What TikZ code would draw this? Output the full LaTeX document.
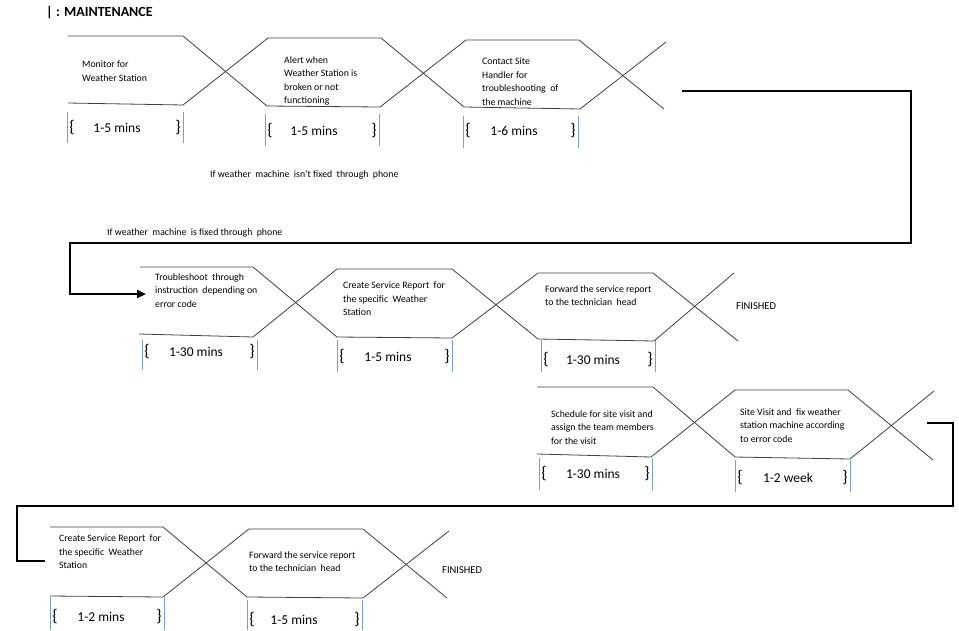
\documentclass[tikz,border=0pt]{standalone}
\usepackage{fontspec}
\setmainfont{Carlito}
\usetikzlibrary{arrows.meta}
\definecolor{hexgray}{RGB}{64,64,64}
\definecolor{brkblue}{RGB}{120,160,200}
\begin{document}
\begin{tikzpicture}[x=1pt,y=-1pt,
  hexline/.style={draw=hexgray, line width=0.8pt},
  brk/.style={draw=brkblue, line width=0.8pt},
  flow/.style={draw=black, line width=2.2pt},
  lbl/.style={anchor=north west, align=left, inner sep=0pt, font=\fontsize{9.8}{13.5}\selectfont},
  cond/.style={anchor=west, inner sep=0pt, font=\fontsize{9.8}{11}\selectfont},
  fin/.style={anchor=west, inner sep=0pt, font=\fontsize{10.5}{11}\selectfont},
  dur/.style={inner sep=0pt, font=\fontsize{13.5}{15}\selectfont},
  brace/.style={inner sep=0pt, font=\fontsize{17}{18}\selectfont},
  title/.style={anchor=west, inner sep=0pt, font=\fontsize{14}{16}\selectfont\bfseries}
]
\useasboundingbox[fill=white] (0,0) rectangle (959,630);

% title
\node[title] (title) at (46,13) {| : MAINTENANCE};

% ---------- Row 1 ----------
\draw[hexline] (68,36) -- (183,36) -- (267,106);
\draw[hexline] (68,103) -- (183,105) -- (268,38);
\draw[hexline] (268,38) -- (381,38) -- (464,107);
\draw[hexline] (267,106) -- (380,107) -- (466,40);
\draw[hexline] (466,40) -- (579,40) -- (664,109);
\draw[hexline] (464,107) -- (580,109) -- (666,42);

\node[lbl] (l1) at (82,61) {Monitor for\\Weather Station};
\node[lbl] (l2) at (284,56) {Alert when\\Weather Station is\\broken or not\\functioning};
\node[lbl] (l3) at (482,58) {Contact Site\\Handler for\\troubleshooting\ \ of\\the machine};

% ---------- Row 2 ----------
\draw[hexline] (140,267) -- (253,267) -- (337,337);
\draw[hexline] (139,334) -- (253,337) -- (337,269);
\draw[hexline] (337,269) -- (452,269) -- (538,339);
\draw[hexline] (337,337) -- (452,338) -- (538,273);
\draw[hexline] (538,273) -- (653,273) -- (738,341);
\draw[hexline] (538,339) -- (654,341) -- (734,273);

\node[lbl] (l4) at (155,273) {Troubleshoot\ \ through\\instruction\ \ depending on\\error code};
\node[lbl] (l5) at (343,282) {Create Service Report\ \ for\\the specific\ \ Weather\\Station};
\node[lbl] (l6) at (545,285) {Forward the service report\\to the technician\ \ head};
\node[fin] (fin1) at (736,306) {FINISHED};

% ---------- Row 3 ----------
\draw[hexline] (537,387) -- (653,387) -- (735,457);
\draw[hexline] (537,454) -- (651,457) -- (735,390);
\draw[hexline] (735,390) -- (848,390) -- (933,460);
\draw[hexline] (735,457) -- (850,459) -- (934,391);

\node[lbl] (l7) at (551,410) {Schedule for site visit and\\assign the team members\\for the visit};
\node[lbl] (l8) at (740,408) {Site Visit and\ \ fix weather\\station machine according\\to error code};

% ---------- Row 4 ----------
\draw[hexline] (50,527) -- (163,527) -- (247,597);
\draw[hexline] (50,596) -- (163,597) -- (249,529);
\draw[hexline] (249,529) -- (363,529) -- (447,598);
\draw[hexline] (247,597) -- (363,598) -- (449,531);

\node[lbl] (l9) at (59,535) {Create Service Report\ \ for\\the specific\ \ Weather\\Station};
\node[lbl] (l10) at (249,551) {Forward the service report\\to the technician\ \ head};
\node[fin] (fin2) at (442,570) {FINISHED};

% ---------- durations ----------
\foreach \xl/\xr/\ya/\yb/\xt/\yt/\txt/\nm in {
  67/183/112/143/117/128/{1-5 mins}/d1,
  265/379/114/146/314/131/{1-5 mins}/d2,
  463/578/116/148/514/131/{1-6 mins}/d3,
  142/257/340/370/196/352/{1-30 mins}/d4,
  337/452/340/372/388/357/{1-5 mins}/d5,
  541/655/340/372/593/360/{1-30 mins}/d6,
  539/652/458/490/593/474/{1-30 mins}/d7,
  735/850/460/492/788/478/{1-2 week}/d8,
  50/164/597/630/101/617/{1-2 mins}/d9,
  247/362/600/630/294/620/{1-5 mins}/d10}{
  \draw[brk] (\xl,\ya) -- (\xl,\yb);
  \draw[brk] (\xr,\ya) -- (\xr,\yb);
  \node[brace] (\nm l) at (\xl+5,\yt) {\{};
  \node[brace] (\nm r) at (\xr-5,\yt) {\}};
  \node[dur] (\nm) at (\xt,\yt) {\txt};
}

% ---------- conditions ----------
\node[cond] (c1) at (210,175) {If weather\ \ machine\ \ isn't fixed\ \ through\ \ phone};
\node[cond] (c2) at (107,233) {If weather\ \ machine\ \ is fixed through\ \ phone};

% ---------- connectors ----------
\coordinate (a0) at (682,91);
\coordinate (a1) at (911,243);
\coordinate (a2) at (70,294);
\coordinate (a3) at (146,294);
\draw[flow,-{Triangle[length=9pt,width=8pt]}] (a0) -| (a1) -| (a2) -- (a3);

\coordinate (b0) at (927,423);
\coordinate (b1) at (953,506);
\coordinate (b2) at (17,561);
\coordinate (b3) at (45,561);
\draw[flow] (b0) -| (b1) -| (b2) -- (b3);
\end{tikzpicture}
\end{document}
